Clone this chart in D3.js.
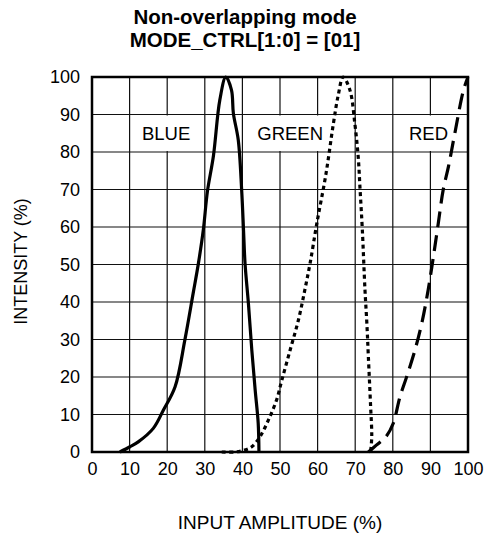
<!DOCTYPE html>
<html><head><meta charset="utf-8">
<script src="https://cdn.jsdelivr.net/npm/d3@7"></script>
<style>body{margin:0;background:#fff}svg{display:block}text{font-family:"Liberation Sans",Arial,Helvetica,sans-serif;fill:#000}</style>
</head><body>
<script>
const xTicks = [0,10,20,30,40,50,60,70,80,90,100];
const yTicks = [0,10,20,30,40,50,60,70,80,90,100];
const titleLines = ["Non-overlapping mode","MODE_CTRL[1:0] = [01]"];
const xTitle = "INPUT AMPLITUDE (%)";
const yTitle = "INTENSITY (%)";
const seriesNames = ["BLUE","GREEN","RED"];
const labelX = [19.7, 52.7, 89.5];
const labelY = 85;
const blueX = [7.4,10.1,12.3,16.3,19,22.1,24.7,26.9,28.3,29.6,30.7,32.3,34,35.6,37.1,37.6,38.9,39.8,40.3,40.7,41.6,42.5,43.4,44.2,44.4];
const blueY = [0,1.4,2.7,6.3,11.2,17.4,29.9,42.3,50.3,59.2,69.5,79,93.9,100,96.5,90.3,83.2,69.9,59.2,50.3,39.6,27.2,16.5,7.7,0];
const greenX = [34.5,38,40.5,42.5,44.7,46.9,49.1,50.5,52.7,54.9,56.6,58,59.8,62.2,64.2,65.5,66.8,68.6,69.9,70.8,71.3,71.9,72.6,73.1,73.5,74.1,74.4,74.1];
const greenY = [0,0,0.5,1.4,4.1,8.5,13.9,19.2,27.2,35.2,43.2,50.3,61,74,87.6,95.2,100,96.5,87.6,78.7,69.9,59.2,43.2,34.3,25.4,12.1,4.1,0];
const redX = [73.5,75.7,78.2,80.1,81.9,83.7,85.9,87.7,89.4,90.8,92.1,93.4,94.8,96.5,98.8,100];
const redY = [0,1.9,4.1,7.6,14.7,20.1,27.2,34.3,43.2,52.1,61,69.9,76.1,85,96.5,100];

const W=485,H=536;
const m={left:92,right:485-468,top:77,bottom:536-452};
const svg=d3.select("body").append("svg").attr("width",W).attr("height",H);
const x=d3.scaleLinear().domain([0,100]).range([m.left,W-m.right]);
const y=d3.scaleLinear().domain([0,100]).range([H-m.bottom,m.top]);

// title
svg.append("text").attr("x",245).attr("y",24).attr("text-anchor","middle")
  .attr("font-size",20.5).attr("font-weight","bold").text(titleLines[0]);
svg.append("text").attr("x",245).attr("y",47).attr("text-anchor","middle")
  .attr("font-size",20.5).attr("font-weight","bold").text(titleLines[1]);

// grid
const g=svg.append("g");
g.selectAll(".vg").data(xTicks.slice(1,-1)).join("line")
  .attr("x1",d=>x(d)).attr("x2",d=>x(d)).attr("y1",y(0)).attr("y2",y(100))
  .attr("stroke","#111").attr("stroke-width",1.2);
g.selectAll(".hg").data(yTicks.slice(1,-1)).join("line")
  .attr("y1",d=>y(d)).attr("y2",d=>y(d)).attr("x1",x(0)).attr("x2",x(100))
  .attr("stroke","#111").attr("stroke-width",1.2);

// label boxes
const lab=svg.append("g").attr("font-size",18.5);
seriesNames.forEach((n,i)=>{
  const t=lab.append("text").attr("x",x(labelX[i])).attr("y",y(labelY)+6.7)
    .attr("text-anchor","middle").text(n);
  const bb=t.node().getBBox();
  lab.insert("rect","text").attr("x",bb.x-4).attr("width",bb.width+8)
    .attr("y",y(90)+1).attr("height",y(80)-y(90)-2).attr("fill","#fff");
});

// frame
svg.append("rect").attr("x",x(0)).attr("y",y(100)).attr("width",x(100)-x(0)).attr("height",y(0)-y(100))
  .attr("fill","none").attr("stroke","#000").attr("stroke-width",2.5);

// axes labels
const xa=d3.axisBottom(x).tickValues(xTicks).tickSize(0).tickPadding(10);
const xg=svg.append("g").attr("transform",`translate(0,${y(0)})`).call(xa);
xg.select(".domain").remove();
xg.selectAll("text").attr("font-size",18).attr("font-family","Liberation Sans, Arial, sans-serif").attr("fill","#000");
const ya=d3.axisLeft(y).tickValues(yTicks).tickSize(0).tickPadding(12);
const yg=svg.append("g").attr("transform",`translate(${x(0)},0)`).call(ya);
yg.select(".domain").remove();
yg.selectAll("text").attr("font-size",18).attr("font-family","Liberation Sans, Arial, sans-serif").attr("fill","#000");

svg.append("text").attr("x",(x(0)+x(100))/2).attr("y",529).attr("text-anchor","middle")
  .attr("font-size",19).text(xTitle);
svg.append("text").attr("transform",`translate(27,${(y(0)+y(100))/2-3}) rotate(-90)`)
  .attr("text-anchor","middle").attr("font-size",18).text(yTitle);

// curves
const line=d3.line().x(d=>x(d[0])).y(d=>y(d[1])).curve(d3.curveCatmullRom.alpha(0.5));
const curves=[
  {xs:blueX,ys:blueY,dash:null},
  {xs:greenX,ys:greenY,dash:"4,3.5"},
  {xs:redX,ys:redY,dash:"16,8"}
];
curves.forEach(c=>{
  svg.append("path").datum(c.xs.map((v,i)=>[v,c.ys[i]])).attr("d",line)
    .attr("fill","none").attr("stroke","#000").attr("stroke-width",3.2)
    .attr("stroke-dasharray",c.dash).attr("stroke-linejoin","round");
});
</script>
</body></html>
